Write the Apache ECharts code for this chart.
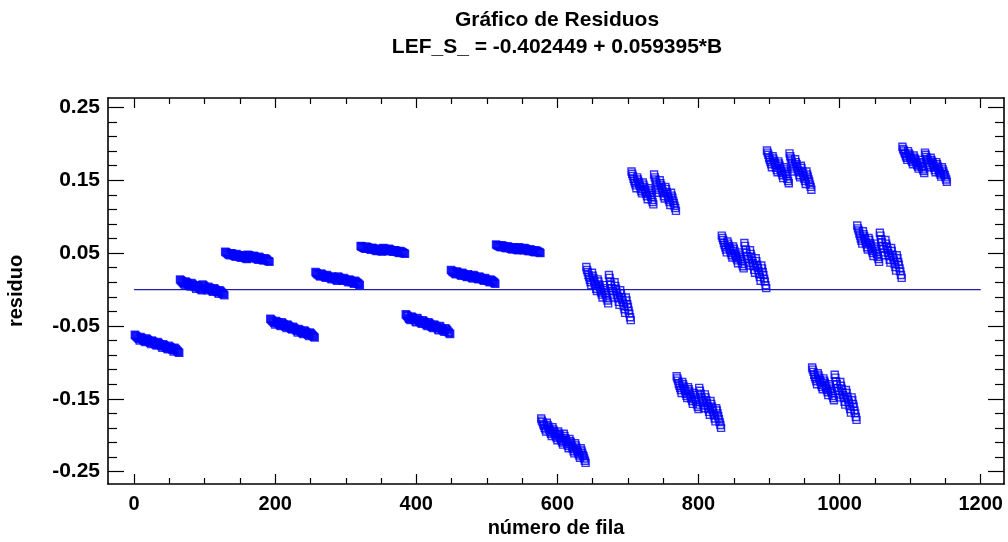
<!DOCTYPE html>
<html>
<head>
<meta charset="utf-8">
<script src="https://cdn.jsdelivr.net/npm/echarts@6/dist/echarts.min.js"></script>
<style>
html,body{margin:0;padding:0;background:#fff;}
#chart{width:1008px;height:542px;}
</style>
</head>
<body>
<div id="chart"></div>
<script>
// Residuals, grouped in blocks of 64 consecutive rows (row number = position in the list)
const grupo01 = [-0.062,-0.063,-0.064,-0.065,-0.066,-0.067,-0.068,-0.070,-0.065,-0.066,-0.067,-0.068,-0.069,-0.070,-0.071,-0.072,-0.067,-0.068,-0.069,-0.070,-0.071,-0.072,-0.073,-0.075,-0.070,-0.071,-0.072,-0.073,-0.074,-0.075,-0.076,-0.077,
 -0.072,-0.073,-0.074,-0.075,-0.076,-0.077,-0.078,-0.080,-0.075,-0.076,-0.077,-0.078,-0.079,-0.080,-0.081,-0.082,-0.077,-0.078,-0.079,-0.080,-0.081,-0.082,-0.083,-0.085,-0.080,-0.081,-0.082,-0.083,-0.084,-0.085,-0.086,-0.087];
const grupo02 = [0.014,0.013,0.012,0.011,0.010,0.009,0.008,0.006,0.011,0.010,0.009,0.008,0.007,0.006,0.005,0.004,0.009,0.008,0.007,0.006,0.005,0.004,0.003,0.001,0.006,0.005,0.004,0.003,0.002,0.001,0.000,-0.001,
 0.007,0.006,0.005,0.004,0.003,0.002,0.001,-0.001,0.004,0.003,0.002,0.001,0.000,-0.001,-0.002,-0.003,0.002,0.001,0.000,-0.001,-0.002,-0.003,-0.004,-0.006,-0.001,-0.002,-0.003,-0.004,-0.005,-0.006,-0.007,-0.008];
const grupo03 = [0.052,0.051,0.051,0.050,0.049,0.048,0.048,0.047,0.050,0.050,0.049,0.048,0.047,0.047,0.046,0.045,0.049,0.048,0.047,0.047,0.046,0.045,0.044,0.044,0.047,0.046,0.046,0.045,0.044,0.043,0.043,0.042,
 0.048,0.047,0.047,0.046,0.045,0.044,0.044,0.043,0.046,0.046,0.045,0.044,0.043,0.043,0.042,0.041,0.045,0.044,0.043,0.043,0.042,0.041,0.040,0.040,0.043,0.042,0.042,0.041,0.040,0.039,0.039,0.038];
const grupo04 = [-0.040,-0.041,-0.042,-0.043,-0.044,-0.045,-0.046,-0.048,-0.043,-0.044,-0.045,-0.046,-0.047,-0.048,-0.049,-0.050,-0.045,-0.046,-0.047,-0.048,-0.049,-0.050,-0.051,-0.053,-0.048,-0.049,-0.050,-0.051,-0.052,-0.053,-0.054,-0.055,
 -0.051,-0.052,-0.053,-0.054,-0.055,-0.056,-0.057,-0.059,-0.054,-0.055,-0.056,-0.057,-0.058,-0.059,-0.060,-0.061,-0.056,-0.057,-0.058,-0.059,-0.060,-0.061,-0.062,-0.064,-0.059,-0.060,-0.061,-0.062,-0.063,-0.064,-0.065,-0.066];
const grupo05 = [0.024,0.023,0.022,0.021,0.021,0.020,0.019,0.018,0.022,0.021,0.020,0.019,0.019,0.018,0.017,0.016,0.020,0.019,0.018,0.017,0.017,0.016,0.015,0.014,0.018,0.017,0.016,0.015,0.015,0.014,0.013,0.012,
 0.018,0.017,0.016,0.015,0.015,0.014,0.013,0.012,0.016,0.015,0.014,0.013,0.013,0.012,0.011,0.010,0.014,0.013,0.012,0.011,0.011,0.010,0.009,0.008,0.012,0.011,0.010,0.009,0.009,0.008,0.007,0.006];
const grupo06 = [0.060,0.059,0.059,0.058,0.058,0.057,0.057,0.056,0.059,0.058,0.058,0.057,0.056,0.056,0.055,0.055,0.057,0.057,0.056,0.056,0.055,0.054,0.054,0.053,0.056,0.055,0.055,0.054,0.054,0.053,0.053,0.052,
 0.057,0.056,0.056,0.055,0.055,0.054,0.054,0.053,0.056,0.055,0.055,0.054,0.053,0.053,0.052,0.052,0.054,0.054,0.053,0.053,0.052,0.051,0.051,0.050,0.053,0.052,0.052,0.051,0.051,0.050,0.050,0.049];
const grupo07 = [-0.034,-0.035,-0.036,-0.037,-0.039,-0.040,-0.041,-0.042,-0.037,-0.038,-0.039,-0.040,-0.041,-0.042,-0.044,-0.045,-0.039,-0.040,-0.042,-0.043,-0.044,-0.045,-0.046,-0.047,-0.042,-0.043,-0.044,-0.045,-0.047,-0.048,-0.049,-0.050,
 -0.045,-0.046,-0.047,-0.048,-0.050,-0.051,-0.052,-0.053,-0.048,-0.049,-0.050,-0.051,-0.052,-0.053,-0.055,-0.056,-0.050,-0.051,-0.053,-0.054,-0.055,-0.056,-0.057,-0.058,-0.053,-0.054,-0.055,-0.056,-0.058,-0.059,-0.060,-0.061];
const grupo08 = [0.027,0.026,0.025,0.024,0.024,0.023,0.022,0.021,0.025,0.024,0.023,0.022,0.022,0.021,0.020,0.019,0.023,0.022,0.021,0.020,0.020,0.019,0.018,0.017,0.021,0.020,0.019,0.018,0.018,0.017,0.016,0.015,
 0.020,0.019,0.018,0.017,0.017,0.016,0.015,0.014,0.018,0.017,0.016,0.015,0.015,0.014,0.013,0.012,0.016,0.015,0.014,0.013,0.013,0.012,0.011,0.010,0.014,0.013,0.012,0.011,0.011,0.010,0.009,0.008];
const grupo09 = [0.062,0.061,0.061,0.060,0.060,0.059,0.059,0.058,0.061,0.060,0.060,0.059,0.058,0.058,0.057,0.057,0.059,0.059,0.058,0.058,0.057,0.056,0.056,0.055,0.058,0.057,0.057,0.056,0.056,0.055,0.055,0.054,
 0.058,0.057,0.057,0.056,0.056,0.055,0.055,0.054,0.057,0.056,0.056,0.055,0.054,0.054,0.053,0.053,0.055,0.055,0.054,0.054,0.053,0.052,0.052,0.051,0.054,0.053,0.053,0.052,0.052,0.051,0.051,0.050];
const grupo10 = [-0.177,-0.180,-0.182,-0.185,-0.187,-0.190,-0.192,-0.195,-0.183,-0.186,-0.188,-0.191,-0.193,-0.196,-0.198,-0.201,-0.189,-0.192,-0.194,-0.197,-0.199,-0.202,-0.204,-0.207,-0.195,-0.198,-0.200,-0.203,-0.205,-0.208,-0.210,-0.213,
 -0.198,-0.201,-0.204,-0.207,-0.209,-0.212,-0.215,-0.218,-0.205,-0.208,-0.210,-0.213,-0.216,-0.219,-0.222,-0.225,-0.211,-0.214,-0.217,-0.220,-0.223,-0.226,-0.228,-0.231,-0.218,-0.221,-0.224,-0.227,-0.229,-0.232,-0.235,-0.238];
const grupo11 = [0.031,0.027,0.024,0.020,0.017,0.013,0.010,0.006,0.023,0.019,0.016,0.012,0.008,0.005,0.001,-0.002,0.014,0.011,0.007,0.004,0.000,-0.004,-0.007,-0.011,0.006,0.002,-0.001,-0.005,-0.008,-0.012,-0.015,-0.019,
 0.020,0.016,0.011,0.007,0.002,-0.002,-0.007,-0.011,0.010,0.005,0.001,-0.004,-0.008,-0.012,-0.017,-0.021,-0.001,-0.005,-0.010,-0.014,-0.018,-0.023,-0.027,-0.032,-0.011,-0.015,-0.020,-0.024,-0.029,-0.033,-0.038,-0.042];
const grupo12 = [0.162,0.159,0.156,0.152,0.149,0.146,0.143,0.139,0.154,0.151,0.148,0.145,0.142,0.138,0.135,0.132,0.147,0.144,0.141,0.137,0.134,0.131,0.128,0.124,0.139,0.136,0.133,0.130,0.127,0.123,0.120,0.117,
 0.158,0.154,0.151,0.147,0.144,0.140,0.137,0.133,0.150,0.146,0.143,0.139,0.135,0.132,0.128,0.125,0.141,0.138,0.134,0.131,0.127,0.123,0.120,0.116,0.133,0.129,0.126,0.122,0.119,0.115,0.112,0.108];
const grupo13 = [-0.119,-0.122,-0.125,-0.129,-0.132,-0.135,-0.138,-0.142,-0.127,-0.130,-0.133,-0.136,-0.139,-0.143,-0.146,-0.149,-0.134,-0.137,-0.140,-0.144,-0.147,-0.150,-0.153,-0.157,-0.142,-0.145,-0.148,-0.151,-0.154,-0.158,-0.161,-0.164,
 -0.135,-0.139,-0.143,-0.147,-0.151,-0.155,-0.159,-0.163,-0.144,-0.148,-0.152,-0.156,-0.160,-0.164,-0.168,-0.172,-0.153,-0.157,-0.161,-0.165,-0.169,-0.173,-0.177,-0.181,-0.163,-0.166,-0.170,-0.174,-0.178,-0.182,-0.186,-0.190];
const grupo14 = [0.074,0.071,0.068,0.064,0.061,0.058,0.055,0.051,0.066,0.063,0.060,0.057,0.054,0.050,0.047,0.044,0.059,0.056,0.053,0.049,0.046,0.043,0.040,0.036,0.051,0.048,0.045,0.042,0.039,0.035,0.032,0.029,
 0.064,0.060,0.055,0.051,0.046,0.042,0.037,0.033,0.054,0.049,0.045,0.040,0.036,0.032,0.027,0.023,0.043,0.039,0.034,0.030,0.026,0.021,0.017,0.012,0.033,0.029,0.024,0.020,0.015,0.011,0.006,0.002];
const grupo15 = [0.191,0.188,0.185,0.181,0.178,0.175,0.172,0.168,0.183,0.180,0.177,0.174,0.171,0.167,0.164,0.161,0.176,0.173,0.170,0.166,0.163,0.160,0.157,0.153,0.168,0.165,0.162,0.159,0.156,0.152,0.149,0.146,
 0.187,0.183,0.180,0.176,0.173,0.169,0.166,0.162,0.179,0.175,0.172,0.168,0.164,0.161,0.157,0.154,0.170,0.167,0.163,0.160,0.156,0.152,0.149,0.145,0.162,0.158,0.155,0.151,0.148,0.144,0.141,0.137];
const grupo16 = [-0.107,-0.110,-0.113,-0.117,-0.120,-0.123,-0.126,-0.130,-0.115,-0.118,-0.121,-0.124,-0.127,-0.131,-0.134,-0.137,-0.122,-0.125,-0.128,-0.132,-0.135,-0.138,-0.141,-0.145,-0.130,-0.133,-0.136,-0.139,-0.142,-0.146,-0.149,-0.152,
 -0.117,-0.121,-0.126,-0.130,-0.135,-0.139,-0.144,-0.148,-0.127,-0.132,-0.136,-0.141,-0.145,-0.149,-0.154,-0.158,-0.138,-0.142,-0.147,-0.151,-0.155,-0.160,-0.164,-0.169,-0.148,-0.152,-0.157,-0.161,-0.166,-0.170,-0.175,-0.179];
const grupo17 = [0.088,0.084,0.081,0.077,0.074,0.070,0.067,0.063,0.080,0.076,0.073,0.069,0.065,0.062,0.058,0.055,0.071,0.068,0.064,0.061,0.057,0.053,0.050,0.046,0.063,0.059,0.056,0.052,0.049,0.045,0.042,0.038,
 0.078,0.074,0.069,0.065,0.060,0.056,0.051,0.047,0.068,0.063,0.059,0.054,0.050,0.046,0.041,0.037,0.057,0.053,0.048,0.044,0.040,0.035,0.031,0.026,0.047,0.043,0.038,0.034,0.029,0.025,0.020,0.016];
const grupo18 = [0.196,0.193,0.191,0.188,0.186,0.183,0.181,0.178,0.190,0.187,0.185,0.182,0.180,0.177,0.175,0.172,0.184,0.181,0.179,0.176,0.174,0.171,0.169,0.166,0.178,0.175,0.173,0.170,0.168,0.165,0.163,0.160,
 0.188,0.185,0.182,0.179,0.177,0.174,0.171,0.168,0.181,0.178,0.176,0.173,0.170,0.167,0.164,0.161,0.175,0.172,0.169,0.166,0.163,0.160,0.158,0.155,0.168,0.165,0.162,0.159,0.157,0.154,0.151,0.148];

// Fitted-line residual reference (residual = 0) across the row range
const lineaCero = [[0, 0], [1200, 0]];

// Tick values
const xMajor = [0, 200, 400, 600, 800, 1000, 1200];
const xMinor = [50,100,150,250,300,350,450,500,550,650,700,750,850,900,950,1050,1100,1150];
const yMajor = [-0.25, -0.15, -0.05, 0.05, 0.15, 0.25];
const yMinor = [-0.23,-0.21,-0.19,-0.17,-0.13,-0.11,-0.09,-0.07,-0.03,-0.01,0.01,0.03,0.07,0.09,0.11,0.13,0.17,0.19,0.21,0.23];

const titulo = 'Gráfico de Residuos';
const subtitulo = 'LEF_S_ = -0.402449 + 0.059395*B';
const nombreX = 'número de fila';
const nombreY = 'residuo';

const residuos = [].concat(grupo01, grupo02, grupo03, grupo04, grupo05, grupo06, grupo07, grupo08, grupo09,
  grupo10, grupo11, grupo12, grupo13, grupo14, grupo15, grupo16, grupo17, grupo18);
const puntos = residuos.map((v, i) => [i + 1, v]);

const FONT = '"Liberation Sans", Arial, sans-serif';
const X_MIN = -37, X_MAX = 1233, Y_MIN = -0.267, Y_MAX = 0.263;

function xAx(pos, ticks, len, labels, showLine) {
  return {
    type: 'value', position: pos, min: X_MIN, max: X_MAX,
    axisLine: { show: showLine, onZero: false, lineStyle: { color: '#000', width: 1.6 } },
    axisTick: { show: true, inside: true, length: len, customValues: ticks, lineStyle: { color: '#000', width: 1.2 } },
    axisLabel: labels ? { show: true, customValues: ticks, margin: 10, color: '#000', fontFamily: FONT, fontWeight: 'bold', fontSize: 20,
      formatter: v => String(v) } : { show: false },
    splitLine: { show: false }, minorTick: { show: false },
    name: labels ? nombreX : '', nameLocation: 'middle', nameGap: 32,
    nameTextStyle: { color: '#000', fontFamily: FONT, fontWeight: 'bold', fontSize: 20 }
  };
}
function yAx(pos, ticks, len, labels, showLine) {
  return {
    type: 'value', position: pos, min: Y_MIN, max: Y_MAX,
    axisLine: { show: showLine, onZero: false, lineStyle: { color: '#000', width: 1.6 } },
    axisTick: { show: true, inside: true, length: len, customValues: ticks, lineStyle: { color: '#000', width: 1.2 } },
    axisLabel: labels ? { show: true, customValues: ticks, margin: 8, color: '#000', fontFamily: FONT, fontWeight: 'bold', fontSize: 21,
      formatter: v => v.toFixed(2) } : { show: false },
    splitLine: { show: false }, minorTick: { show: false },
    name: labels ? nombreY : '', nameLocation: 'middle', nameGap: 82, nameRotate: 90,
    nameTextStyle: { color: '#000', fontFamily: FONT, fontWeight: 'bold', fontSize: 20 }
  };
}

const chart = echarts.init(document.getElementById('chart'), null, { renderer: 'canvas' });
chart.setOption({
  animation: false,
  backgroundColor: '#fff',
  title: [
    { text: titulo, left: 552, top: 5, textAlign: 'center',
      textStyle: { color: '#000', fontFamily: FONT, fontWeight: 'bold', fontSize: 21 } },
    { text: subtitulo, left: 552, top: 32, textAlign: 'center',
      textStyle: { color: '#000', fontFamily: FONT, fontWeight: 'bold', fontSize: 21 } }
  ],
  grid: { left: 108, right: 4, top: 98, bottom: 58, containLabel: false, outerBoundsMode: 'none' },
  xAxis: [
    xAx('bottom', xMajor, 10, true, true),
    xAx('bottom', xMinor, 6, false, false),
    xAx('top', xMajor, 10, false, true),
    xAx('top', xMinor, 6, false, false)
  ],
  yAxis: [
    yAx('left', yMajor, 16, true, true),
    yAx('left', yMinor, 9, false, false),
    yAx('right', yMajor, 16, false, true),
    yAx('right', yMinor, 9, false, false)
  ],
  series: [
    {
      type: 'line', data: lineaCero, xAxisIndex: 0, yAxisIndex: 0,
      symbol: 'none', lineStyle: { color: '#2020a8', width: 1.2 }, silent: true, z: 1
    },
    {
      type: 'scatter', data: puntos, xAxisIndex: 0, yAxisIndex: 0,
      symbol: 'rect', symbolSize: 7,
      itemStyle: { color: 'rgba(255,255,255,0)', borderColor: '#0000ff', borderWidth: 1.4 },
      z: 2
    }
  ]
});
</script>
</body>
</html>
